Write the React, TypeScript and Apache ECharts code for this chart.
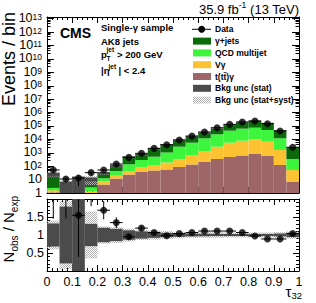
import React, { useEffect, useRef } from "react";
import * as echarts from "echarts";

// ---- data ----
const binEdges = [0, 0.05, 0.1, 0.15, 0.2, 0.25, 0.3, 0.35, 0.4, 0.45, 0.5, 0.55, 0.6, 0.65, 0.7, 0.75, 0.8, 0.85, 0.9, 0.95, 1.0];
const dataObs = [52, 11, 13, 33, 52, 145, 457, 912, 2140, 3980, 9120, 17800, 35500, 74100, 132000, 200000, 234000, 148000, 42700, 2570];
const dataErrRel = [0.3, 0.47, 0.75, 0.4, 0.15, 0.11, 0.07, 0.05, 0.04, 0.03, 0.02, 0.02, 0.015, 0.01, 0.01, 0.01, 0.01, 0.01, 0.02, 0.04];
const ttgamma = [1.1, 0.9, 0.9, 1.0, 4.3, 12, 24, 37, 48, 57, 87, 134, 206, 345, 486, 629, 813, 577, 123, 6.6];
const vgamma = [0.5, 0.4, 0.5, 0.3, 3.6, 7.4, 20, 46, 75, 132, 240, 551, 1156, 2506, 5189, 7371, 9357, 6153, 1495, 45];
const qcdMultijet = [0.8, 0.7, 1.6, 1.3, 4.6, 24.5, 95, 207, 389, 863, 2524, 4990, 10718, 21189, 38925, 54950, 64480, 43500, 10462, 293];
const gammaJets = [22.6, 2.0, 5.4, 8.4, 18.3, 64, 342, 476, 1488, 3008, 5919, 10965, 19920, 42720, 74300, 123950, 166550, 116070, 35920, 2125];
const statUncRel = [0.32, 0.79, 1.0, 0.31, 0.2, 0.17, 0.13, 0.1, 0.08, 0.06, 0.05, 0.04, 0.035, 0.03, 0.03, 0.03, 0.03, 0.03, 0.04, 0.06];
const totUncRel = [0.4, 0.95, 1.0, 0.65, 0.24, 0.22, 0.18, 0.14, 0.13, 0.11, 0.09, 0.08, 0.08, 0.08, 0.07, 0.07, 0.07, 0.07, 0.08, 0.1];
const legendLabels = ["Data", "\u03b3+jets", "QCD multijet", "V\u03b3", "t(tt\u0304)\u03b3", "Bkg unc (stat)", "Bkg unc (stat+syst)"];

const COL_GJ = "#0b6b0b";
const COL_QCD = "#3cf53c";
const COL_VG = "#fdc231";
const COL_TTG = "#9e6666";
const COL_STAT = "#4b4b4b";
const FONT = "Liberation Sans";

const LOG_MIN = 1;
const LOG_MAX = 1.35e13;

function rectRender(fill: any, yMin: number, yMax: number) {
  return (params: any, api: any) => {
    const b = Math.max(api.value(2), yMin);
    const t = Math.min(api.value(3), yMax);
    if (!(t > b)) return { type: "group", children: [] };
    const p1 = api.coord([api.value(0), t]);
    const p2 = api.coord([api.value(1), b]);
    return {
      type: "rect",
      shape: { x: p1[0], y: p1[1], width: p2[0] - p1[0], height: p2[1] - p1[1] },
      style: { fill },
    };
  };
}

function errRender(yMin: number, yMax: number) {
  return (params: any, api: any) => {
    const x = api.value(0), y = api.value(1), ylo = api.value(2), yhi = api.value(3), xlo = api.value(4), xhi = api.value(5);
    const children: any[] = [];
    if (y >= yMin && y <= yMax) {
      const a = api.coord([xlo, y]);
      const b = api.coord([xhi, y]);
      children.push({ type: "line", shape: { x1: a[0], y1: a[1], x2: b[0], y2: b[1] }, style: { stroke: "#000", lineWidth: 1 } });
    }
    const lo = Math.max(ylo, yMin), hi = Math.min(yhi, yMax);
    if (hi > lo) {
      const a = api.coord([x, lo]);
      const b = api.coord([x, hi]);
      children.push({ type: "line", shape: { x1: a[0], y1: a[1], x2: b[0], y2: b[1] }, style: { stroke: "#000", lineWidth: 1 } });
    }
    return { type: "group", children };
  };
}

export default function App() {
  const ref = useRef<HTMLDivElement>(null);
  useEffect(() => {
    const el = ref.current!;
    const chart = echarts.init(el, null, { renderer: "svg" });

    const cv = document.createElement("canvas");
    cv.width = 2;
    cv.height = 2;
    const ctx = cv.getContext("2d")!;
    ctx.fillStyle = "#b0b0b0";
    ctx.fillRect(0, 0, 1, 1);
    ctx.fillRect(1, 1, 1, 1);
    const hatch: any = { image: cv, repeat: "repeat", imageWidth: 2, imageHeight: 2 };

    const nb = dataObs.length;
    const lo = binEdges.slice(0, nb);
    const hi = binEdges.slice(1, nb + 1);
    const ctr = lo.map((l, i) => (l + hi[i]) / 2);
    const layers = [ttgamma, vgamma, qcdMultijet, gammaJets];
    const layerCols = [COL_TTG, COL_VG, COL_QCD, COL_GJ];
    let run = new Array(nb).fill(0);
    const stackData = layers.map((layer) => {
      const d = layer.map((v, i) => [lo[i], hi[i], run[i], run[i] + v]);
      run = run.map((r, i) => r + layer[i]);
      return d;
    });
    const total = run;
    const ratio = dataObs.map((d, i) => d / total[i]);

    const mkAxisX = (gridIndex: number, position: string, showLabel: boolean) => ({
      type: "value",
      gridIndex,
      position,
      min: 0,
      max: 1,
      interval: 0.1,
      axisLine: { show: true, onZero: false, lineStyle: { color: "#000", width: 1 } },
      axisTick: { show: true, inside: true, length: 6, lineStyle: { color: "#000" } },
      minorTick: { show: true, splitNumber: 5, length: 3, lineStyle: { color: "#000" } },
      splitLine: { show: false },
      axisLabel: {
        show: showLabel,
        color: "#000",
        fontSize: 12.5,
        fontFamily: FONT,
        margin: 4,
        formatter: (v: number) => (v === 0 ? "0" : v === 1 ? "1" : v.toFixed(1)),
      },
    });

    const logLabel = (v: number) => {
      const e = Math.log10(v);
      const n = Math.round(e);
      if (Math.abs(e - n) > 1e-6) return "";
      if (n === 0) return "{b|1}";
      if (n === 1) return "{b|10}";
      return `{b|10}{s|${n}}`;
    };

    const mkLogY = (position: string, showLabel: boolean) => ({
      type: "log",
      gridIndex: 0,
      position,
      logBase: 10,
      min: LOG_MIN,
      max: LOG_MAX,
      interval: 1,
      axisLine: { show: true, onZero: false, lineStyle: { color: "#000", width: 1 } },
      axisTick: { show: true, inside: true, length: 7, lineStyle: { color: "#000" } },
      minorTick: { show: true, splitNumber: 5, length: 3.5, lineStyle: { color: "#000" } },
      splitLine: { show: false },
      axisLabel: {
        show: showLabel,
        color: "#000",
        fontSize: 12.5,
        fontFamily: FONT,
        margin: 5,
        lineHeight: 12,
        formatter: logLabel,
        rich: {
          b: { fontSize: 12.5, fontFamily: FONT, color: "#000", lineHeight: 12, verticalAlign: "bottom" },
          s: { fontSize: 8.5, fontFamily: FONT, color: "#000", lineHeight: 12, verticalAlign: "top" },
        },
      },
    });

    const mkRatioY = (position: string, showLabel: boolean) => ({
      type: "value",
      gridIndex: 1,
      position,
      min: 0,
      max: 2,
      interval: 0.5,
      axisLine: { show: true, onZero: false, lineStyle: { color: "#000", width: 1 } },
      axisTick: { show: true, inside: true, length: 6, lineStyle: { color: "#000" } },
      minorTick: { show: true, splitNumber: 5, length: 3, lineStyle: { color: "#000" } },
      splitLine: { show: false },
      axisLabel: {
        show: showLabel,
        color: "#000",
        fontSize: 12.5,
        fontFamily: FONT,
        margin: 3,
        formatter: (v: number) => (v === 0.5 ? "0.5" : v === 1 ? "1" : v === 1.5 ? "1.5" : ""),
      },
    });

    const UMIN = LOG_MIN, UMAX = LOG_MAX;
    const series: any[] = [];
    stackData.forEach((d, k) => {
      series.push({
        type: "custom",
        xAxisIndex: 0,
        yAxisIndex: 0,
        renderItem: rectRender(layerCols[k], UMIN, UMAX),
        encode: { x: [0, 1], y: [3] },
        data: d,
        silent: true,
      });
    });
    series.push({
      type: "custom", xAxisIndex: 0, yAxisIndex: 0, silent: true,
      renderItem: rectRender(hatch, UMIN, UMAX),
      encode: { x: [0, 1], y: [3] },
      data: total.map((t, i) => [lo[i], hi[i], t * (1 - totUncRel[i]), t * (1 + totUncRel[i])]),
    });
    series.push({
      type: "custom", xAxisIndex: 0, yAxisIndex: 0, silent: true,
      renderItem: rectRender(COL_STAT, UMIN, UMAX),
      encode: { x: [0, 1], y: [3] },
      data: total.map((t, i) => [lo[i], hi[i], t * (1 - statUncRel[i]), t * (1 + statUncRel[i])]),
    });
    series.push({
      type: "custom", xAxisIndex: 0, yAxisIndex: 0, silent: true,
      renderItem: errRender(UMIN, UMAX),
      encode: { x: [0], y: [1] },
      data: dataObs.map((d, i) => [ctr[i], d, d * (1 - dataErrRel[i]), d * (1 + dataErrRel[i]), lo[i], hi[i]]),
    });
    series.push({
      type: "scatter", xAxisIndex: 0, yAxisIndex: 0, silent: true,
      symbol: "circle", symbolSize: 7, itemStyle: { color: "#000" },
      data: dataObs.map((d, i) => [ctr[i], d]),
      clip: true,
    });
    // ratio panel
    series.push({
      type: "custom", xAxisIndex: 2, yAxisIndex: 2, silent: true,
      renderItem: rectRender(hatch, 0, 2),
      encode: { x: [0, 1], y: [3] },
      data: totUncRel.map((r, i) => [lo[i], hi[i], 1 - r, 1 + r]),
    });
    series.push({
      type: "custom", xAxisIndex: 2, yAxisIndex: 2, silent: true,
      renderItem: rectRender(COL_STAT, 0, 2),
      encode: { x: [0, 1], y: [3] },
      data: statUncRel.map((r, i) => [lo[i], hi[i], 1 - r, 1 + r]),
    });
    series.push({
      type: "custom", xAxisIndex: 2, yAxisIndex: 2, silent: true,
      renderItem: errRender(0, 2),
      encode: { x: [0], y: [1] },
      data: ratio.map((r, i) => [ctr[i], r, r * (1 - dataErrRel[i]), r * (1 + dataErrRel[i]), lo[i], hi[i]]),
    });
    series.push({
      type: "scatter", xAxisIndex: 2, yAxisIndex: 2, silent: true,
      symbol: "circle", symbolSize: 7, itemStyle: { color: "#000" },
      data: ratio.map((r, i) => [ctr[i], r]),
      clip: true,
    });

    // legend / annotations (graphic)
    const legY = [29.3, 41.1, 52.9, 64.7, 76.5, 88.3, 100.1];
    const legFills: any[] = [null, COL_GJ, COL_QCD, COL_VG, COL_TTG, COL_STAT, hatch];
    const g: any[] = [];
    legY.forEach((y, i) => {
      if (i === 0) {
        g.push({ type: "line", shape: { x1: 192, y1: y, x2: 211, y2: y }, style: { stroke: "#000", lineWidth: 1 } });
        g.push({ type: "circle", shape: { cx: 201.7, cy: y, r: 3.5 }, style: { fill: "#000" } });
      } else {
        g.push({ type: "rect", shape: { x: 193, y: y - 3.5, width: 18, height: 7 }, style: { fill: legFills[i] } });
      }
      g.push({
        type: "text", x: 215, y,
        style: { text: legendLabels[i], fill: "#000", fontSize: 8.5, fontWeight: "bold", fontFamily: FONT, align: "left", verticalAlign: "middle" },
      });
    });
    const info = (x: number, y: number, text: string, size = 9, align = "left") => ({
      type: "text", x, y,
      style: { text, fill: "#000", fontSize: size, fontWeight: "bold", fontFamily: FONT, align, verticalAlign: "middle" },
    });
    g.push({
      type: "text", x: 60, y: 33.3,
      style: { text: "CMS", fill: "#000", fontSize: 14, fontWeight: "bold", fontFamily: FONT, align: "left", verticalAlign: "middle" },
    });
    g.push(info(101, 27.5, "Single-\u03b3 sample", 9.5));
    g.push(info(101, 41.3, "AK8 jets", 9.5));
    g.push(info(101, 54.3, "p", 9.5));
    g.push(info(106.5, 58, "T", 6.5));
    g.push(info(106.5, 49.6, "jet", 6.5));
    g.push(info(117, 54.3, "> 200 GeV", 9.5));
    g.push(info(101, 70.7, "|\u03b7", 9.5));
    g.push(info(108.5, 66, "jet", 6.5));
    g.push(info(118.5, 70.7, "| < 2.4", 9.5));
    g.push({
      type: "text", x: 299, y: 8,
      style: {
        text: "{b|35.9 fb}{s|-1}{b| (13 TeV)}", fill: "#000", fontFamily: FONT, align: "right", verticalAlign: "middle",
        rich: {
          b: { fontSize: 13, fontFamily: FONT, fill: "#000", lineHeight: 15, verticalAlign: "bottom" },
          s: { fontSize: 8.5, fontFamily: FONT, fill: "#000", lineHeight: 15, verticalAlign: "top" },
        },
      },
    });
    g.push({
      type: "text", x: 9, y: 12, rotation: Math.PI / 2,
      style: { text: "Events / bin", fill: "#000", fontSize: 18, fontFamily: FONT, align: "right", verticalAlign: "middle" },
    });
    g.push({
      type: "text", x: 10, y: 196, rotation: Math.PI / 2,
      style: {
        text: "{b|N}{s|obs}{b| / N}{s|exp}", fill: "#000", fontFamily: FONT, align: "right", verticalAlign: "middle",
        rich: {
          b: { fontSize: 15, fontFamily: FONT, fill: "#000", lineHeight: 19, verticalAlign: "top" },
          s: { fontSize: 10, fontFamily: FONT, fill: "#000", lineHeight: 19, verticalAlign: "bottom" },
        },
      },
    });
    g.push({
      type: "text", x: 302, y: 292,
      style: {
        text: "{b|\u03c4}{s|32}", fill: "#000", fontFamily: FONT, align: "right", verticalAlign: "middle",
        rich: {
          b: { fontSize: 15, fontFamily: FONT, fill: "#000", lineHeight: 17, verticalAlign: "top" },
          s: { fontSize: 9.5, fontFamily: FONT, fill: "#000", lineHeight: 17, verticalAlign: "bottom" },
        },
      },
    });

    chart.setOption({
      animation: false,
      backgroundColor: "#fff",
      textStyle: { fontFamily: FONT },
      grid: [
        { left: 47, top: 17, width: 252, height: 176, outerBoundsMode: "none" },
        { left: 47, top: 199, width: 252, height: 72, outerBoundsMode: "none" },
      ],
      xAxis: [mkAxisX(0, "bottom", false), mkAxisX(0, "top", false), mkAxisX(1, "bottom", true), mkAxisX(1, "top", false)],
      yAxis: [mkLogY("left", true), mkLogY("right", false), mkRatioY("left", true), mkRatioY("right", false)],
      series,
      graphic: { elements: g },
    });

    return () => chart.dispose();
  }, []);
  return <div ref={ref} style={{ position: "fixed", left: 0, top: 0, width: 316, height: 303 }} />;
}
